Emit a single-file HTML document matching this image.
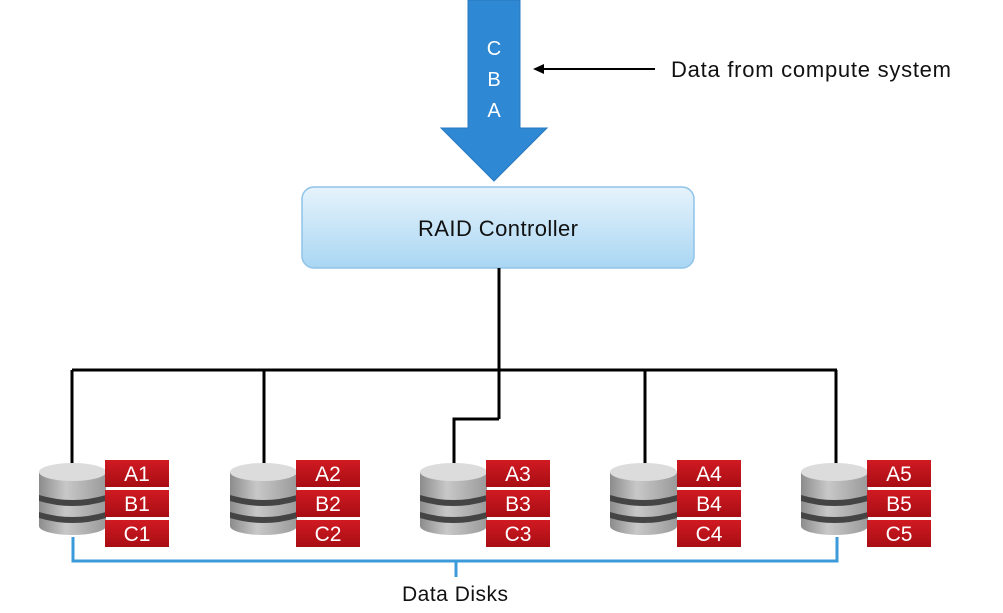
<!DOCTYPE html>
<html><head><meta charset="utf-8"><style>
html,body{margin:0;padding:0;background:#fff;}
svg{display:block;}
text{font-family:"Liberation Sans",sans-serif;}
</style></head><body>
<svg width="1003" height="613" viewBox="0 0 1003 613" xmlns="http://www.w3.org/2000/svg">
<defs>
<linearGradient id="ctl" x1="0" y1="0" x2="0" y2="1">
<stop offset="0" stop-color="#e6f3fc"/><stop offset="1" stop-color="#a9d6f3"/>
</linearGradient>
<linearGradient id="red" x1="0" y1="0" x2="0" y2="1">
<stop offset="0" stop-color="#d11a22"/><stop offset="1" stop-color="#a80d14"/>
</linearGradient>
<linearGradient id="disk" x1="0" y1="0" x2="1" y2="0">
<stop offset="0" stop-color="#8c8c8c"/><stop offset="0.4" stop-color="#c8c8c8"/><stop offset="1" stop-color="#9a9a9a"/>
</linearGradient>
<g id="d">
<rect x="0" y="9" width="67" height="54" fill="url(#disk)"/>
<ellipse cx="33.5" cy="63" rx="33.5" ry="9" fill="url(#disk)"/>
<path d="M0,32 Q33.5,42 67,32 L67,38 Q33.5,48 0,38 Z" fill="#444"/>
<path d="M0,49 Q33.5,59 67,49 L67,55 Q33.5,65 0,55 Z" fill="#444"/>
<ellipse cx="33.5" cy="9" rx="33.5" ry="9" fill="#dcdcdc"/>
</g>
<g id="r">
<rect x="0" y="0" width="64" height="27" fill="url(#red)"/>
<rect x="0" y="30" width="64" height="27" fill="url(#red)"/>
<rect x="0" y="60" width="64" height="27" fill="url(#red)"/>
</g>
</defs>
<polygon points="468,0 520,0 520,128 547,128 494,181 441,128 468,128" fill="#2e88d4" stroke="#2a78bd" stroke-width="1"/>
<text x="494" y="55" fill="#fff" font-size="20" text-anchor="middle">C</text>
<text x="494" y="86" fill="#fff" font-size="20" text-anchor="middle">B</text>
<text x="494" y="117" fill="#fff" font-size="20" text-anchor="middle">A</text>
<line x1="655" y1="69" x2="540" y2="69" stroke="#000" stroke-width="2"/>
<polygon points="533,69 544,64 544,74" fill="#000"/>
<text x="671" y="77" font-size="22" fill="#111" textLength="280">Data from compute system</text>
<rect x="302" y="187" width="392" height="81" rx="12" fill="url(#ctl)" stroke="#8fc3e8" stroke-width="1.5"/>
<text x="498" y="236" font-size="22" fill="#111" text-anchor="middle" textLength="160">RAID Controller</text>
<g stroke="#000" stroke-width="3" fill="none">
<line x1="499" y1="268" x2="499" y2="419"/>
<line x1="72" y1="370" x2="837" y2="370"/>
<polyline points="499,419 454,419 454,466"/>
<line x1="72" y1="370" x2="72" y2="466"/>
<line x1="264" y1="370" x2="264" y2="466"/>
<line x1="645" y1="370" x2="645" y2="466"/>
<line x1="836" y1="370" x2="836" y2="466"/>
</g>
<use href="#d" x="39" y="463"/><use href="#r" x="105" y="460"/>
<use href="#d" x="230" y="463"/><use href="#r" x="296" y="460"/>
<use href="#d" x="420" y="463"/><use href="#r" x="486" y="460"/>
<use href="#d" x="610" y="463"/><use href="#r" x="677" y="460"/>
<use href="#d" x="801" y="463"/><use href="#r" x="867" y="460"/>
<g font-size="21" fill="#fff" text-anchor="middle">
<text x="137" y="481">A1</text><text x="137" y="511">B1</text><text x="137" y="541">C1</text>
<text x="328" y="481">A2</text><text x="328" y="511">B2</text><text x="328" y="541">C2</text>
<text x="518" y="481">A3</text><text x="518" y="511">B3</text><text x="518" y="541">C3</text>
<text x="709" y="481">A4</text><text x="709" y="511">B4</text><text x="709" y="541">C4</text>
<text x="899" y="481">A5</text><text x="899" y="511">B5</text><text x="899" y="541">C5</text>
</g>
<g stroke="#3d9ad8" stroke-width="3" fill="none">
<polyline points="73,537 73,561 837,561 837,537"/>
<line x1="456" y1="561" x2="456" y2="577"/>
</g>
<text x="455" y="601" font-size="21" fill="#111" text-anchor="middle" textLength="106">Data Disks</text>
</svg>
</body></html>
